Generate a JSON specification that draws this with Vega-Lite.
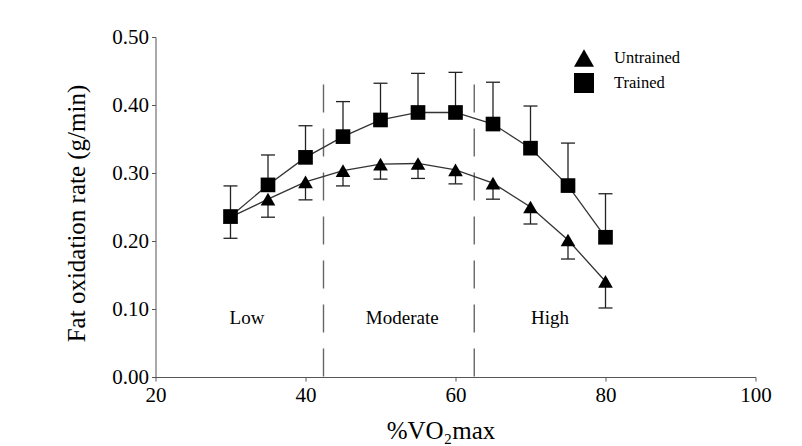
{
  "$schema": "https://vega.github.io/schema/vega-lite/v6.json",
  "width": 600,
  "height": 340,
  "autosize": {"type": "none"},
  "padding": {"left": 155.5, "top": 37, "right": 46.5, "bottom": 69},
  "background": "white",
  "config": {
    "font": "Liberation Serif",
    "view": {"stroke": null},
    "axis": {"grid": false, "domainColor": "#555", "tickColor": "#555", "labelColor": "black", "titleColor": "black", "titleFontWeight": "normal", "labelFont": "Liberation Serif", "titleFont": "Liberation Serif"}
  },
  "datasets": {
    "rates": [
      {"pct": 30, "group": "Untrained", "rate": 0.235, "bar": 0.204},
      {"pct": 35, "group": "Untrained", "rate": 0.2615, "bar": 0.235},
      {"pct": 40, "group": "Untrained", "rate": 0.287, "bar": 0.2605},
      {"pct": 45, "group": "Untrained", "rate": 0.3035, "bar": 0.281},
      {"pct": 50, "group": "Untrained", "rate": 0.313, "bar": 0.291},
      {"pct": 55, "group": "Untrained", "rate": 0.314, "bar": 0.292},
      {"pct": 60, "group": "Untrained", "rate": 0.3045, "bar": 0.284},
      {"pct": 65, "group": "Untrained", "rate": 0.285, "bar": 0.2615},
      {"pct": 70, "group": "Untrained", "rate": 0.25, "bar": 0.225},
      {"pct": 75, "group": "Untrained", "rate": 0.2015, "bar": 0.1735},
      {"pct": 80, "group": "Untrained", "rate": 0.1405, "bar": 0.1015},
      {"pct": 30, "group": "Trained", "rate": 0.236, "bar": 0.281},
      {"pct": 35, "group": "Trained", "rate": 0.2825, "bar": 0.3265},
      {"pct": 40, "group": "Trained", "rate": 0.323, "bar": 0.3695},
      {"pct": 45, "group": "Trained", "rate": 0.3535, "bar": 0.405},
      {"pct": 50, "group": "Trained", "rate": 0.378, "bar": 0.432},
      {"pct": 55, "group": "Trained", "rate": 0.389, "bar": 0.4465},
      {"pct": 60, "group": "Trained", "rate": 0.389, "bar": 0.448},
      {"pct": 65, "group": "Trained", "rate": 0.372, "bar": 0.4335},
      {"pct": 70, "group": "Trained", "rate": 0.3365, "bar": 0.3985},
      {"pct": 75, "group": "Trained", "rate": 0.2815, "bar": 0.344},
      {"pct": 80, "group": "Trained", "rate": 0.2055, "bar": 0.2695}
    ],
    "zones": [
      {"boundary": 42.4, "top": 0.43, "bottom": 0},
      {"boundary": 62.5, "top": 0.43, "bottom": 0}
    ],
    "zonelabels": [
      {"mid": 32.2, "level": 0.087, "label": "Low"},
      {"mid": 52.9, "level": 0.087, "label": "Moderate"},
      {"mid": 72.6, "level": 0.087, "label": "High"}
    ]
  },
  "layer": [
    {
      "data": {"name": "zones"},
      "mark": {"type": "rule", "color": "#666", "strokeWidth": 1.4, "strokeDash": [28, 16]},
      "encoding": {
        "x": {"field": "boundary", "type": "quantitative", "scale": {"domain": [20, 100], "nice": false},
          "axis": {"values": [20, 40, 60, 80, 100], "title": "%VO₂max", "labelFontSize": 21, "titleFontSize": 25, "tickSize": 4, "labelPadding": 3, "labelDx": 3, "titlePadding": 13, "titleX": 285, "titleAlign": "center", "labelFlush": false}},
        "y": {"field": "top", "type": "quantitative", "scale": {"domain": [0, 0.5], "nice": false},
          "axis": {"values": [0, 0.1, 0.2, 0.3, 0.4, 0.5], "format": ".2f", "title": "Fat oxidation rate (g/min)", "labelFontSize": 21, "titleFontSize": 25, "tickSize": 4, "labelPadding": 3, "titlePadding": 22, "titleY": 176, "labelFlush": false}},
        "y2": {"field": "bottom"}
      }
    },
    {
      "data": {"name": "zonelabels"},
      "mark": {"type": "text", "fontSize": 19, "color": "black", "font": "Liberation Serif", "baseline": "middle"},
      "encoding": {
        "x": {"field": "mid", "type": "quantitative"},
        "y": {"field": "level", "type": "quantitative"},
        "text": {"field": "label"}
      }
    },
    {
      "data": {"name": "rates"},
      "mark": {"type": "rule", "color": "#222", "strokeWidth": 1.3},
      "encoding": {
        "x": {"field": "pct", "type": "quantitative"},
        "y": {"field": "rate", "type": "quantitative"},
        "y2": {"field": "bar"}
      }
    },
    {
      "data": {"name": "rates"},
      "mark": {"type": "tick", "orient": "horizontal", "color": "#222", "size": 14, "thickness": 1.3, "opacity": 1},
      "encoding": {
        "x": {"field": "pct", "type": "quantitative"},
        "y": {"field": "bar", "type": "quantitative"}
      }
    },
    {
      "data": {"name": "rates"},
      "mark": {"type": "line", "color": "#333", "strokeWidth": 1.3},
      "encoding": {
        "x": {"field": "pct", "type": "quantitative"},
        "y": {"field": "rate", "type": "quantitative"},
        "detail": {"field": "group"}
      }
    },
    {
      "data": {"name": "rates"},
      "mark": {"type": "point", "filled": true, "color": "black", "opacity": 1, "size": 215},
      "encoding": {
        "x": {"field": "pct", "type": "quantitative"},
        "y": {"field": "rate", "type": "quantitative"},
        "shape": {"field": "group", "type": "nominal",
          "scale": {"domain": ["Untrained", "Trained"], "range": ["triangle-up", "square"]},
          "legend": {"title": null, "orient": "none", "legendX": 417.5, "legendY": 10, "padding": 0,
            "symbolSize": 400, "labelOffset": 19, "labelFontSize": 16.5, "labelColor": "black", "labelFont": "Liberation Serif", "rowPadding": 0}}
      }
    }
  ]
}
